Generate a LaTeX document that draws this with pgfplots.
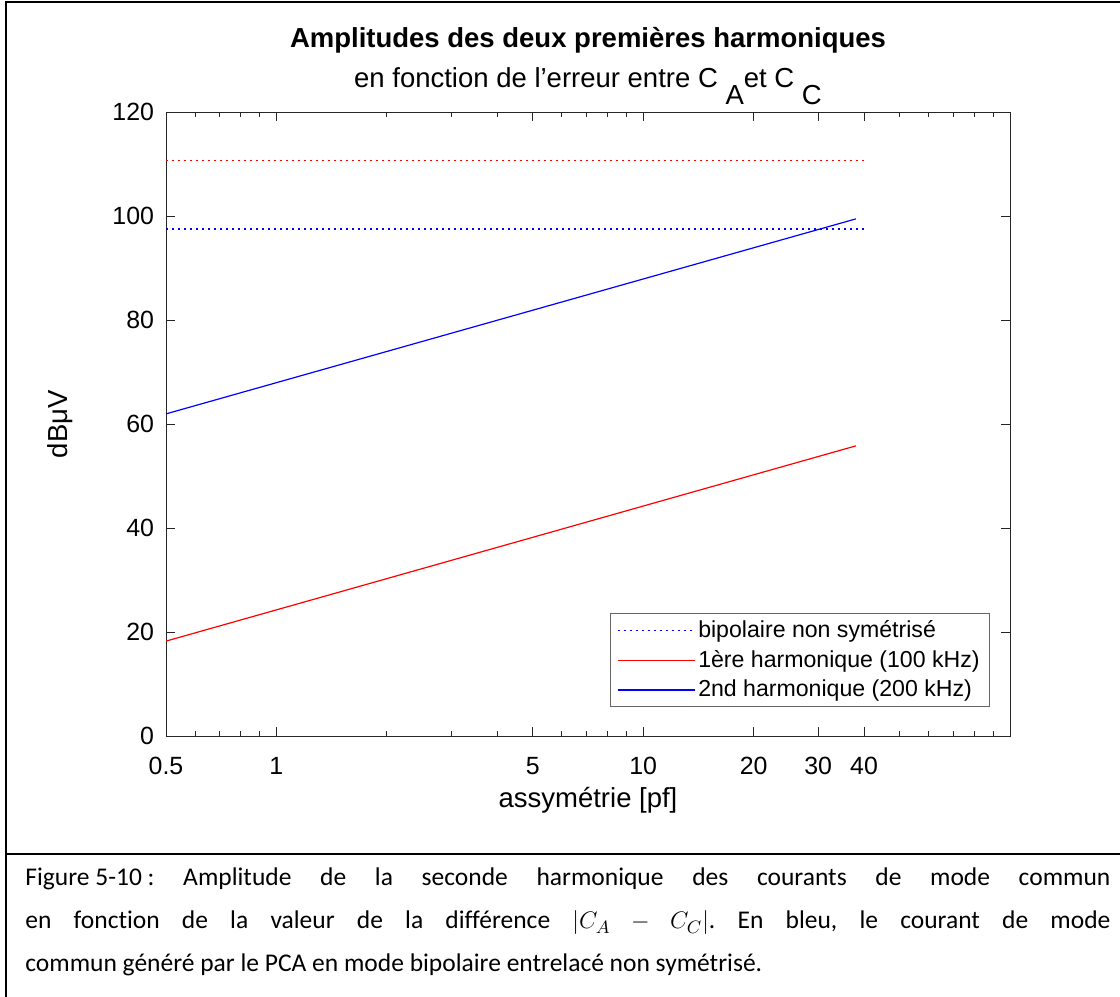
\documentclass[border=0pt]{standalone}
\usepackage{fontspec}
\setmainfont{Liberation Sans}
\newfontfamily\capfont[Ligatures=NoCommon]{Carlito}
\usepackage{pgfplots}
\pgfplotsset{compat=1.18}
\frenchspacing
\definecolor{mred}{rgb}{1,0,0}
\definecolor{mblue}{rgb}{0,0,1}

\pgfplotstableread{
x     y
0.5   18.3
38    55.85
}\firstharm
\pgfplotstableread{
x     y
0.5   62.0
38    99.5
}\secondharm

\begin{document}
\begin{tikzpicture}[x=1bp,y=1bp]
\useasboundingbox (0,0) rectangle (560,498.5);
\clip (0,0) rectangle (560,498.5);
% page frame and caption box
\draw[line width=1bp] (3,-5) -- (3,497.5) -- (570,497.5);
\draw[line width=1bp] (3,71.5) -- (570,71.5);

\node[anchor=base, font=\bfseries\fontsize{13.8}{16}\selectfont] at (294,474.5)
  {Amplitudes des deux premières harmoniques};
\node[anchor=base, font=\fontsize{13.8}{16}\selectfont] at (294,454.5)
  {en fonction de l'erreur entre C \raisebox{-0.6em}{A}et C \raisebox{-0.6em}{C}};

\begin{axis}[
    at={(83bp,130.35bp)}, anchor=south west,
    width=422bp, height=312bp, scale only axis,
    xmode=log,
    xmin=0.5, xmax=100, ymin=0, ymax=120,
    xtick={0.5,1,5,10,20,30,40},
    xticklabels={0.5,1,5,10,20,30,40},
    minor xtick={0.6,0.7,0.8,0.9,2,3,4,6,7,8,9,50,60,70,80,90},
    ytick={0,20,40,60,80,100,120},
    yticklabels={0,20,40,60,80,100,120},
    tick align=inside,
    major tick length=4.5bp, minor tick length=2.5bp,
    axis line style={draw=black!85, line width=0.5bp},
    every tick/.append style={draw=black!85, line width=0.5bp},
    ticklabel style={font=\fontsize{12.5}{14}\selectfont},
    xticklabel style={yshift=-7bp},
    yticklabel style={xshift=-2.5bp},
    xlabel={assymétrie [pf]},
    ylabel={dBμV},
    every axis x label/.style={at={(axis description cs:0.5,-0.102)}, anchor=center,
        font=\fontsize{13.8}{16}\selectfont},
    every axis y label/.style={at={(axis description cs:-0.1256,0.5)}, rotate=90, anchor=center,
        font=\fontsize{13.8}{16}\selectfont},
    legend style={at={(1,0)}, anchor=south east, xshift=-10bp, yshift=14.5bp,
        font=\fontsize{11.6}{14}\selectfont, draw=black!60, line width=0.4bp,
        inner xsep=3.5bp, inner ysep=1.5bp, row sep=1bp,
        nodes={inner xsep=1.5bp}},
    legend cell align=left,
    legend image code/.code={\draw[#1] (0bp,0bp) -- (38.5bp,0bp);},
]
\addplot[draw=mblue, line width=0.6bp, dash pattern=on 1bp off 2bp] coordinates {(0.5,97.56) (40,97.56)};
\addlegendentry{bipolaire non symétrisé}
\addplot[draw=mred, line width=0.6bp] table[x=x, y=y] {\firstharm};
\addlegendentry{1ère harmonique (100 kHz)}
\addplot[draw=mblue, line width=0.6bp] table[x=x, y=y] {\secondharm};
\addlegendentry{2nd harmonique (200 kHz)}
% reference level, not in the legend
\addplot[draw=mred, line width=0.7bp, dash pattern=on 1bp off 2bp] coordinates {(0.5,110.7) (40,110.7)};
\end{axis}

% caption
\node[anchor=base west, inner sep=0, font=\capfont\fontsize{12.8}{21.5}\selectfont] at (12.5,55.5)
  {\makebox[542.5bp][s]{\mbox{Figure 5-10 :} Amplitude de la seconde harmonique des courants de mode commun}};
\node[anchor=base west, inner sep=0, font=\capfont\fontsize{12.8}{21.5}\selectfont] at (12.5,34)
  {\makebox[542.5bp][s]{en fonction de la valeur de la différence $|C_A-C_C|$. En bleu, le courant de mode}};
\node[anchor=base west, inner sep=0, font=\capfont\fontsize{12.8}{21.5}\selectfont] at (12.5,12.5)
  {commun généré par le PCA en mode bipolaire entrelacé non symétrisé.};
\end{tikzpicture}
\end{document}
